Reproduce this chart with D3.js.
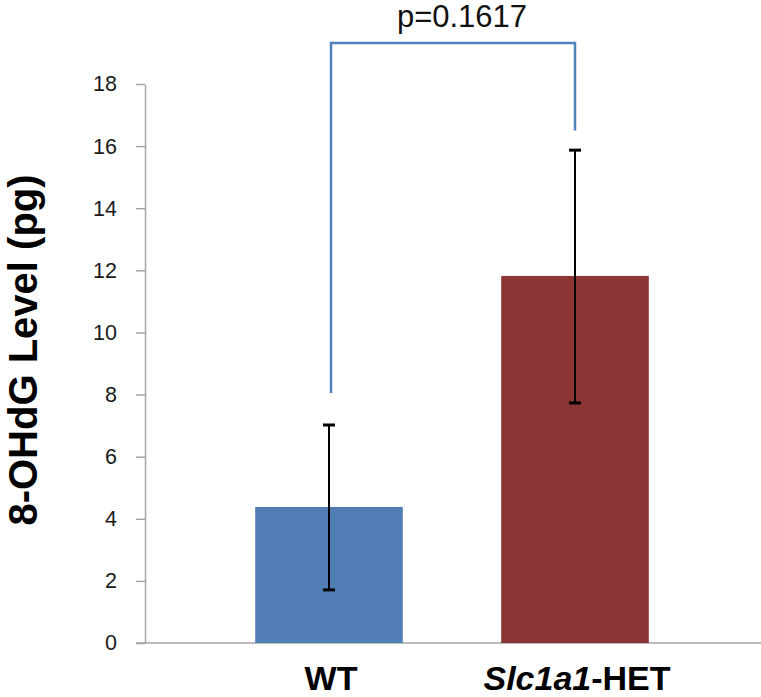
<!DOCTYPE html>
<html><head><meta charset="utf-8">
<script src="https://cdn.jsdelivr.net/npm/d3@7/dist/d3.min.js"></script>
<style>body{margin:0;background:#fff;} svg{display:block;}</style>
</head><body>
<svg id="c" width="761" height="697"></svg>
<script>
const categories = ["WT", "Slc1a1-HET"];
const means = [4.38, 11.82];
const errLow = [1.71, 7.73];
const errHigh = [7.02, 15.87];
const barColors = ["#4f7db4", "#8c3535"];
const yTicks = [0, 2, 4, 6, 8, 10, 12, 14, 16, 18];
const bracketEnds = [8.05, 16.5];
const pLabel = "p=0.1617";
const yTitle = "8-OHdG Level (pg)";

const svg = d3.select("#c");
const font = "'Liberation Sans', Arial, sans-serif";
const y = d3.scaleLinear().domain([0, 18]).range([643, 84]);
const x = d3.scaleBand().domain(categories).range([206, 698]).paddingInner(0.4).paddingOuter(0.2);

// y axis
const yAxis = svg.append("g").attr("transform", "translate(145,0)")
  .call(d3.axisLeft(y).tickValues(yTicks).tickSize(9).tickPadding(19).tickSizeOuter(0));
yAxis.select(".domain").attr("stroke", "#a6a6a6").attr("stroke-width", 1.5);
yAxis.selectAll(".tick line").attr("stroke", "#a6a6a6").attr("stroke-width", 1.5);
yAxis.selectAll(".tick text").attr("font-family", font).attr("font-size", 21.5).attr("fill", "#1a1a1a");

// x axis line
svg.append("line").attr("x1", 136).attr("x2", 761).attr("y1", y(0)).attr("y2", y(0))
  .attr("stroke", "#a6a6a6").attr("stroke-width", 1.5);

// bars
svg.selectAll("rect.bar").data(categories).join("rect").attr("class", "bar")
  .attr("x", d => x(d)).attr("width", x.bandwidth())
  .attr("y", (d, i) => y(means[i])).attr("height", (d, i) => y(0) - y(means[i]))
  .attr("fill", (d, i) => barColors[i]);

// error bars
const eg = svg.append("g").attr("stroke", "#000").attr("stroke-width", 2);
categories.forEach((c, i) => {
  const cx = x(c) + x.bandwidth() / 2;
  eg.append("line").attr("x1", cx).attr("x2", cx).attr("y1", y(errLow[i])).attr("y2", y(errHigh[i]));
  eg.append("line").attr("x1", cx - 6).attr("x2", cx + 6).attr("y1", y(errLow[i])).attr("y2", y(errLow[i])).attr("stroke-width", 3);
  eg.append("line").attr("x1", cx - 6).attr("x2", cx + 6).attr("y1", y(errHigh[i])).attr("y2", y(errHigh[i])).attr("stroke-width", 3);
});

// bracket
const bx0 = x(categories[0]) + x.bandwidth() / 2 + 2;
const bx1 = x(categories[1]) + x.bandwidth() / 2;
const topY = 43;
svg.append("path")
  .attr("d", `M${bx0},${y(bracketEnds[0])}V${topY}H${bx1}V${y(bracketEnds[1])}`)
  .attr("fill", "none").attr("stroke", "#4f81bd").attr("stroke-width", 2.5);
svg.append("text").attr("x", (bx0 + bx1) / 2 + 9).attr("y", 27).attr("text-anchor", "middle")
  .attr("font-family", font).attr("font-size", 31).attr("fill", "#111").text(pLabel);

// y title
svg.append("text").attr("transform", "translate(37,350) rotate(-90)").attr("text-anchor", "middle")
  .attr("font-family", font).attr("font-size", 40).attr("font-weight", "bold").attr("fill", "#000").text(yTitle);

// x labels
const xl = svg.append("g").attr("font-family", font).attr("font-size", 34).attr("font-weight", "bold").attr("text-anchor", "middle");
xl.append("text").attr("x", x(categories[0]) + x.bandwidth() / 2 + 2).attr("y", 690).text("WT");
const t2 = xl.append("text").attr("x", x(categories[1]) + x.bandwidth() / 2 + 2).attr("y", 690);
t2.append("tspan").attr("font-style", "italic").text("Slc1a1");
t2.append("tspan").text("-HET");
</script>
</body></html>
